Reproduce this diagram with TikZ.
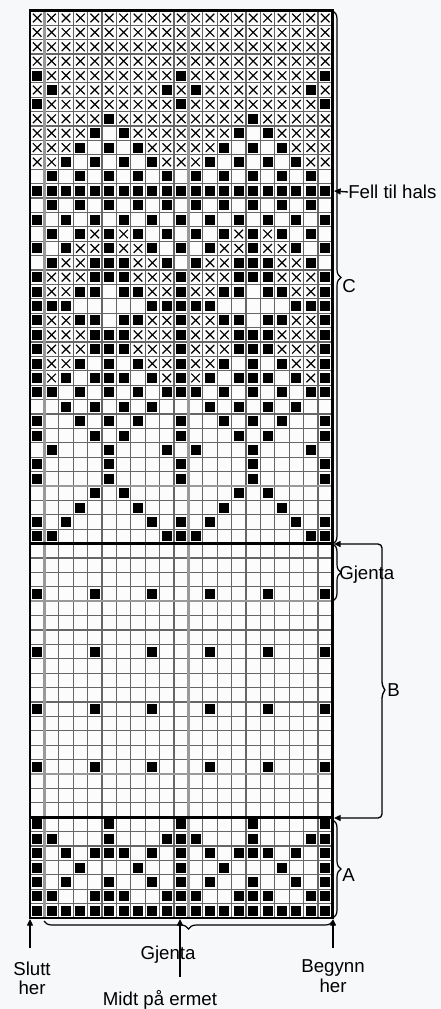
\documentclass[tikz,border=0pt]{standalone}
\usepackage{fontspec}
\setmainfont{Liberation Sans}
\usetikzlibrary{arrows.meta, decorations.pathreplacing, calc}
\definecolor{paper}{HTML}{F7F8FA}
\definecolor{gridgray}{HTML}{666666}
\definecolor{markgray}{HTML}{999999}

% one chart row: #1 = row from bottom, #2 = ten symbols (0 empty, 1 black, 2 cross), repeated every 10 stitches
\newcommand\knitrow[2]{%
  \foreach \s [count=\i from 0] in {#2}{
    \foreach \k in {0,10,20}{
      \pgfmathtruncatemacro\cc{\i+\k}
      \ifnum\cc<21
        \ifnum\s=1 \fill (\cc+.15,#1+.15) rectangle ++(.7,.7);\fi
        \ifnum\s=2 \draw[xmark] (\cc+.2,#1+.2) -- ++(.6,.6) (\cc+.2,#1+.8) -- ++(.6,-.6);\fi
      \fi}}}

\begin{document}
\begin{tikzpicture}[x=0.75pt, y=-0.75pt,
    lbl/.style={font=\fontsize{14}{14.5}\selectfont, inner sep=0pt, align=center},
    arr/.style={-{Triangle[length=5pt, width=4.5pt]}, line width=1pt},
    brc/.style={decorate, decoration={brace, amplitude=6pt}, line width=0.9pt},
    xmark/.style={line width=0.9pt},
    gridline/.style={gridgray, line width=0.8pt},
    markline/.style={markgray, line width=1.8pt},
    heavy/.style={line width=2.2pt},
]
\path[use as bounding box, fill=paper] (0,0) rectangle (441,1009);

% Chart
\begin{scope}[shift={(30,918)}, x=10.8pt, y=10.8pt]
\fill[white!60!paper] (0,0) rectangle (21,63);
\draw[gridline, step=1] (0,0) grid (21,63);
\draw[markline] (1,0) -- (1,63) (11,0) -- (11,63);
\draw[markline] (0,10) -- (21,10) (0,22) -- (21,22) (0,30) -- (21,30);

% A
\knitrow{0}{1,1,1,1,1,1,1,1,1,1}
\knitrow{1}{1,1,0,0,1,1,1,0,0,1}
\knitrow{2}{1,0,1,0,0,1,0,0,1,0}
\knitrow{3}{1,0,0,1,0,0,0,1,0,0}
\knitrow{4}{1,0,1,0,1,1,1,0,1,0}
\knitrow{5}{1,1,0,0,0,1,0,0,0,1}
\knitrow{6}{1,0,0,0,0,1,0,0,0,0}

% B
\foreach \r in {10,14,18,22}
  \foreach \cc in {0,4,...,20}
    \fill (\cc+.15,\r+.15) rectangle ++(.7,.7);

% C
\knitrow{26}{1,1,0,0,0,0,0,0,0,1}
\knitrow{27}{1,0,1,0,0,0,0,0,1,0}
\knitrow{28}{0,0,0,1,0,0,0,1,0,0}
\knitrow{29}{0,0,0,0,1,0,1,0,0,0}
\knitrow{30}{1,0,0,0,0,1,0,0,0,0}
\knitrow{31}{1,0,0,0,0,1,0,0,0,0}
\knitrow{32}{0,1,0,0,0,1,0,0,0,1}
\knitrow{33}{1,0,0,0,1,0,1,0,0,0}
\knitrow{34}{1,0,0,1,0,1,0,1,0,0}
\knitrow{35}{0,0,1,0,1,0,1,0,1,0}
\knitrow{36}{1,1,0,1,0,1,0,1,0,1}
\knitrow{37}{1,2,1,0,1,1,1,0,1,2}
\knitrow{38}{1,2,2,1,0,1,0,1,2,2}
\knitrow{39}{1,2,2,2,1,1,1,2,2,2}
\knitrow{40}{1,2,2,2,1,1,1,2,2,2}
\knitrow{41}{1,2,2,1,1,0,1,1,2,2}
\knitrow{42}{1,1,1,0,0,0,0,0,1,1}
\knitrow{43}{1,2,2,1,1,0,1,1,2,2}
\knitrow{44}{1,2,2,2,1,1,1,2,2,2}
\knitrow{45}{0,1,2,2,1,1,1,2,2,1}
\knitrow{46}{1,0,1,2,2,1,2,2,1,0}
\knitrow{47}{0,1,0,1,2,1,2,1,0,1}
\knitrow{48}{1,0,1,0,1,0,1,0,1,0}
\knitrow{49}{0,1,0,1,0,1,0,1,0,1}
\knitrow{50}{1,1,1,1,1,1,1,1,1,1}
\knitrow{51}{0,1,0,1,0,1,0,1,0,1}
\knitrow{52}{2,2,1,0,1,0,1,0,1,2}
\knitrow{53}{2,2,2,1,0,1,0,1,2,2}
\knitrow{54}{2,2,2,2,1,0,1,2,2,2}
\knitrow{55}{2,2,2,2,2,1,2,2,2,2}
\knitrow{56}{1,2,2,2,2,2,2,2,2,2}
\knitrow{57}{2,1,2,2,2,2,2,2,2,1}
\knitrow{58}{1,2,2,2,2,2,2,2,2,2}
\foreach \r in {59,...,62}{
  \knitrow{\r}{2,2,2,2,2,2,2,2,2,2}
}

\draw[heavy] (0,7) -- (21,7) (0,26) -- (21,26);
\draw[heavy] (0,0) rectangle (21,63);
\end{scope}

% Right side
\coordinate (neck) at (334,191);
\coordinate (Btop) at (334,544);
\coordinate (Bbot) at (334,818);
\node[lbl, anchor=west] (fell) at (348,192) {Fell til hals};
\draw[arr] (fell.west) -- (neck);

\draw[brc] (333,11) -- (333,544);
\node[lbl, anchor=west] (C) at (342,286) {C};

\draw[brc] (333,544) -- (333,601);
\node[lbl, anchor=west] (rep) at (339,575) {Gjenta};

\coordinate (Bmid) at (385,690);
\draw[arr, rounded corners=3pt] (Bmid) -- (382,686) |- (Btop);
\draw[arr, rounded corners=3pt] (Bmid) -- (382,694) |- (Bbot);
\node[lbl, anchor=west] (B) at (387,690) {B};

\draw[brc] (333,820) -- (333,918);
\node[lbl, anchor=west] (A) at (342,875) {A};

% Bottom
\draw[brc] (333,921) -- (44,921);
\node[lbl] (rep2) at (168,955) {Gjenta};

\coordinate (endst) at (30,919);
\coordinate (startst) at (333,919);
\coordinate (mid) at (180,919);
\coordinate (endfoot) at (30,948);
\coordinate (startfoot) at (333,948);
\coordinate (midfoot) at (180,977);
\node[lbl] (slutt) at (32,978) {Slutt\\her};
\node[lbl] (begynn) at (333,976) {Begynn\\her};
\node[lbl] (midt) at (160,1000) {Midt på ermet};
\draw[arr] (endfoot) -- (endst);
\draw[arr] (startfoot) -- (startst);
\draw[arr] (midfoot) -- (mid);
\end{tikzpicture}
\end{document}
